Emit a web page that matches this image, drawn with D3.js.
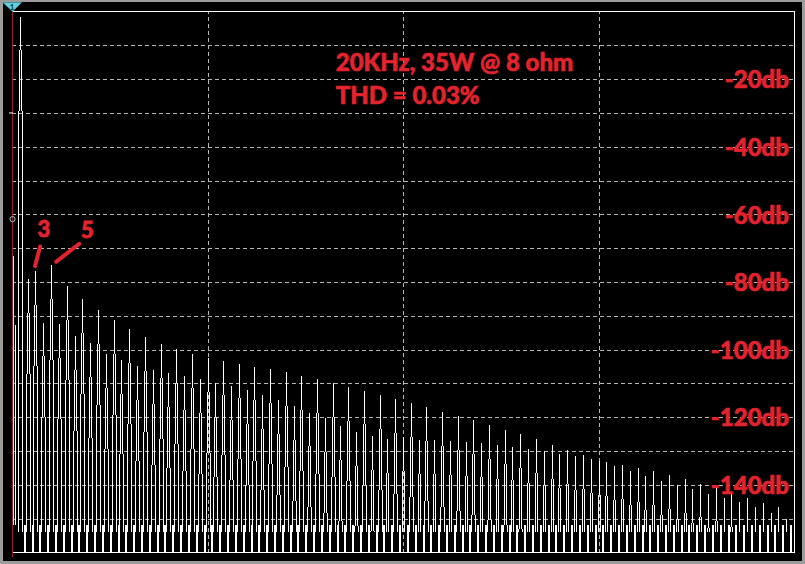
<!DOCTYPE html>
<html><head><meta charset="utf-8">
<script src="https://cdn.jsdelivr.net/npm/d3@7"></script>
<style>html,body{margin:0;padding:0;background:#000;overflow:hidden}</style>
</head><body><svg id="c" width="805" height="564"></svg>
<script>
// ---------- data ----------
const harmonicFreqKHz = [20,40,60,80,100,120,140,160,180,200,
  220,240,260,280,300,320,340,360,380,400,
  420,440,460,480,500,520,540,560,580,600,
  620,640,660,680,700,720,740,760,780,800,
  820,840,860,880,900,920,940,960,980,1000,
  1020,1040,1060,1080,1100,1120,1140,1160,1180,1200,
  1220,1240,1260,1280,1300,1320,1340,1360,1380,1400,
  1420,1440,1460,1480,1500,1520,1540,1560,1580,1600,
  1620,1640,1660,1680,1700,1720,1740,1760,1780,1800,
  1820,1840,1860,1880,1900,1920,1940,1960,1980,2000];
const harmonicPeakDb = [-1.5,-79.2,-76.8,-92.0,-75.0,-92.4,-81.1,-96.1,-85.1,-98.1,
  -88.4,-101.3,-91.2,-103.0,-94.0,-104.8,-96.3,-106.0,-98.4,-107.0,
  -99.8,-107.8,-101.3,-108.7,-102.6,-109.8,-103.3,-110.7,-104.3,-111.9,
  -105.0,-113.4,-105.7,-114.9,-106.6,-116.7,-107.8,-118.6,-108.7,-120.3,
  -109.8,-122.6,-111.0,-124.3,-112.1,-125.5,-113.4,-126.4,-114.6,-125.9,
  -115.7,-126.7,-116.9,-126.7,-118.4,-127.0,-119.6,-127.3,-120.8,-127.7,
  -122.3,-128.2,-123.8,-128.7,-125.0,-129.4,-126.4,-130.0,-128.2,-130.9,
  -129.7,-131.5,-131.2,-132.4,-133.0,-133.2,-134.4,-134.2,-135.9,-135.0,
  -137.4,-135.9,-138.9,-137.1,-140.0,-138.3,-141.2,-139.6,-142.7,-140.7,
  -144.0,-142.5,-145.1,-144.0,-146.5,-145.5,-148.4,-146.5,-150.0,-150.9];
const spurFreqKHz = [3.3, 8.4];
const spurDb = [-72.3, -92.7];
const noiseFloorDb = -152;
const gridDb = [-10,-20,-30,-40,-50,-60,-70,-80,-90,-100,-110,-120,-130,-140,-150];
const labelDb = [-20,-40,-60,-80,-100,-120,-140];
const labelText = ["-20db","-40db","-60db","-80db","-100db","-120db","-140db"];
const gridFreqKHz = [500,1000,1500];
const titleLines = ["20KHz, 35W @ 8 ohm","THD = 0.03%"];
const harmonicMarks = ["3","5"];
const markerDb = -61.4;

// ---------- style ----------
const RED = "#e3232d";
const FONT = "Lato, 'Open Sans', sans-serif";
// leakage skirt of each line: [column offset px, top offset dB, bottom offset dB]
const lobe = [[0,0,-10],[1,-10,-28],[-1,-10,-28],[2,-28,-200],[-2,-28,-200]];

const svg = d3.select("#c");
const W=805,H=564;
svg.append("rect").attr("width",W).attr("height",H).attr("fill","#9c9c9c");
svg.append("rect").attr("x",3).attr("y",2).attr("width",W-6).attr("height",H-5).attr("fill","#000");

const x = d3.scaleLinear().domain([0,2000]).range([12,794]);
const y = d3.scaleLinear().domain([0,-160]).range([11.5,552.5]);
const yBot = y(-160);

// grid
const gy = svg.append("g").attr("transform","translate(12,0)")
  .call(d3.axisLeft(y).tickValues(gridDb).tickSize(-782).tickFormat(""));
gy.select(".domain").remove();
gy.selectAll("line").attr("stroke","#b8b8b8").attr("stroke-dasharray","4,3").attr("shape-rendering","crispEdges");
const gx = svg.append("g").attr("transform",`translate(0,${yBot})`)
  .call(d3.axisBottom(x).tickValues(gridFreqKHz).tickSize(-541).tickFormat(""));
gx.select(".domain").remove();
gx.selectAll("line").attr("stroke","#b8b8b8").attr("stroke-dasharray","4,3").attr("shape-rendering","crispEdges");

// spectrum
const segs = [];
harmonicFreqKHz.forEach((f,i)=>{
  const p = harmonicPeakDb[i];
  const cx = Math.round(x(f));
  lobe.forEach(([o,t,b])=>{
    let top = Math.max(p+t, noiseFloorDb-2), bot = Math.max(p+b, noiseFloorDb-2);
    if (top>bot) segs.push({cx:cx+o, top, bot});
  });
  if (i < harmonicFreqKHz.length-1) {
    const mx = Math.round(x(f+10));
    segs.push({cx:mx, top:noiseFloorDb, bot:-160});
    segs.push({cx:mx+1, top:noiseFloorDb, bot:-160});
  }
});
spurFreqKHz.forEach((f,i)=>segs.push({cx:Math.round(x(f)), top:spurDb[i], bot:noiseFloorDb}));
svg.append("g").selectAll("line").data(segs).join("line")
  .attr("x1",d=>d.cx+0.5).attr("x2",d=>d.cx+0.5)
  .attr("y1",d=>Math.round(y(d.top))).attr("y2",d=>Math.round(y(d.bot)))
  .attr("stroke","#fff").attr("stroke-width",1).attr("shape-rendering","crispEdges");

// frame
svg.append("path").attr("d",`M12,${y(0)}H${x(2000)+0.5}V${yBot}H12`)
  .attr("fill","none").attr("stroke","#fff").attr("stroke-width",1).attr("shape-rendering","crispEdges");
svg.append("line").attr("x1",12.5).attr("x2",12.5).attr("y1",9).attr("y2",557)
  .attr("stroke","#8e2424").attr("stroke-width",1.2);
svg.append("line").attr("x1",9).attr("x2",13).attr("y1",y(-30)).attr("y2",y(-30)).attr("stroke","#fff");
svg.append("circle").attr("cx",12.5).attr("cy",y(markerDb)).attr("r",2.6)
  .attr("fill","none").attr("stroke","#9cc8cc").attr("stroke-width",1);
svg.append("path").attr("d","M3,2.5H21.5L12.5,11.5Z").attr("fill","#62d2dc").attr("stroke","#3fb4c2").attr("stroke-width",0.6);
svg.append("text").attr("x",12).attr("y",9.5).attr("text-anchor","middle")
  .attr("font-family",FONT).attr("font-weight",700).attr("font-size",8).attr("fill","#05353a").text("1");

// y labels
const ya = svg.append("g").attr("transform","translate(789,0)")
  .call(d3.axisLeft(y).tickValues(labelDb).tickSize(0).tickPadding(0).tickFormat((d,i)=>labelText[i]));
ya.select(".domain").remove();
ya.selectAll("text").attr("fill",RED).attr("stroke",RED).attr("stroke-width",0.6)
  .attr("font-family",FONT).attr("font-weight",900).attr("font-size",24).attr("dy","0.36em");

// title
titleLines.forEach((t,i)=>{
  svg.append("text").attr("x",x(828)).attr("y",y(i===0?-17.7:-27.4))
    .attr("font-family",FONT).attr("font-weight",900).attr("font-size",24)
    .attr("fill",RED).attr("stroke",RED).attr("stroke-width",0.6).text(t);
});

// harmonic annotations
const markPos = [{tx:65, ty:-66.7, l:[[72,-69.5],[59,-75.3]]},{tx:176.5, ty:-66.9, l:[[172,-68.7],[113,-74]]}];
harmonicMarks.forEach((m,i)=>{
  const p = markPos[i];
  svg.append("text").attr("x",x(p.tx)).attr("y",y(p.ty)).attr("font-family",FONT)
    .attr("font-weight",900).attr("font-size",22).attr("fill",RED)
    .attr("stroke",RED).attr("stroke-width",0.8).text(m);
  svg.append("line").attr("x1",x(p.l[0][0])).attr("y1",y(p.l[0][1]))
    .attr("x2",x(p.l[1][0])).attr("y2",y(p.l[1][1]))
    .attr("stroke",RED).attr("stroke-width",4).attr("stroke-linecap","round");
});
</script></body></html>
